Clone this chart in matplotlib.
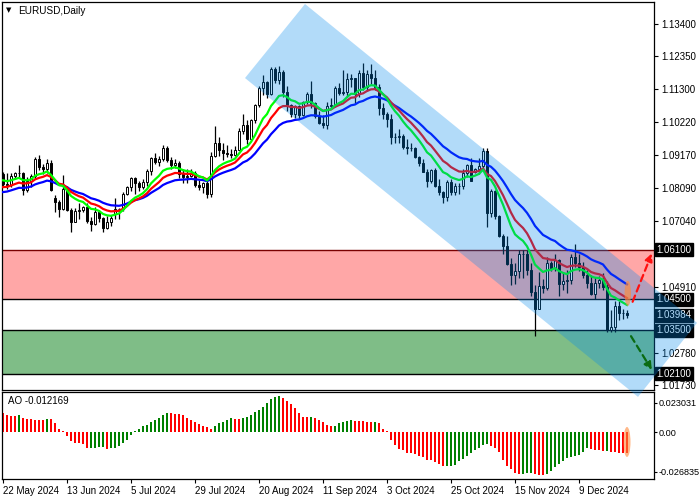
"""EURUSD daily chart with channel, zones and AO pane."""
import numpy as np
import matplotlib
matplotlib.use('Agg')
import matplotlib.pyplot as plt
from matplotlib.patches import Polygon, Ellipse
from matplotlib.transforms import blended_transform_factory

plt.rcParams['font.family'] = ['Liberation Sans', 'DejaVu Sans']

opens = [1.0855, 1.0822, 1.0818, 1.0847, 1.0857, 1.0858, 1.0802, 1.0832, 1.0848, 1.0902,
         1.0877, 1.0869, 1.0890, 1.0776, 1.0763, 1.0741, 1.0806, 1.0738, 1.0701, 1.0735,
         1.0737, 1.0748, 1.0702, 1.0692, 1.0733, 1.0713, 1.0681, 1.0701, 1.0725, 1.0740,
         1.0743, 1.0789, 1.0811, 1.0840, 1.0825, 1.0813, 1.0830, 1.0863, 1.0907, 1.0894,
         1.0902, 1.0938, 1.0898, 1.0882, 1.0891, 1.0853, 1.0844, 1.0849, 1.0856, 1.0820,
         1.0814, 1.0825, 1.0790, 1.0911, 1.0955, 1.0933, 1.0923, 1.0919, 1.0917, 1.0933,
         1.0994, 1.1011, 1.0967, 1.1028, 1.1077, 1.1131, 1.1151, 1.1113, 1.1192, 1.1159,
         1.1183, 1.1118, 1.1077, 1.1047, 1.1073, 1.1045, 1.1087, 1.1111, 1.1084, 1.1040,
         1.1018, 1.1012, 1.1075, 1.1076, 1.1132, 1.1116, 1.1118, 1.1160, 1.1163, 1.1111,
         1.1180, 1.1134, 1.1177, 1.1164, 1.1134, 1.1068, 1.1048, 1.1031, 1.0974, 1.0975,
         1.0978, 1.0941, 1.0937, 1.0937, 1.0908, 1.0891, 1.0862, 1.0832, 1.0867, 1.0817,
         1.0796, 1.0781, 1.0827, 1.0797, 1.0817, 1.0816, 1.0856, 1.0884, 1.0860, 1.0870,
         1.0880, 1.0930, 1.0730, 1.0800, 1.0720, 1.0654, 1.0622, 1.0565, 1.0530, 1.0540,
         1.0597, 1.0595, 1.0543, 1.0472, 1.0418, 1.0494, 1.0487, 1.0566, 1.0552, 1.0577,
         1.0498, 1.0509, 1.0512, 1.0585, 1.0567, 1.0555, 1.0528, 1.0502, 1.0468, 1.0502,
         1.0513, 1.0490, 1.0350, 1.0362, 1.0429, 1.0407, 1.0405]
highs = [1.0862, 1.0859, 1.0858, 1.0860, 1.0882, 1.0860, 1.0845, 1.0853, 1.0910, 1.0916,
         1.0886, 1.0902, 1.0898, 1.0786, 1.0772, 1.0852, 1.0815, 1.0745, 1.0744, 1.0761,
         1.0752, 1.0762, 1.0716, 1.0747, 1.0739, 1.0717, 1.0719, 1.0722, 1.0776, 1.0746,
         1.0797, 1.0816, 1.0846, 1.0845, 1.0832, 1.0838, 1.0872, 1.0910, 1.0922, 1.0913,
         1.0948, 1.0944, 1.0910, 1.0903, 1.0896, 1.0870, 1.0869, 1.0871, 1.0863, 1.0834,
         1.0830, 1.0831, 1.0925, 1.1009, 1.0973, 1.0955, 1.0949, 1.0934, 1.0944, 1.1003,
         1.1047, 1.1028, 1.1033, 1.1080, 1.1138, 1.1174, 1.1156, 1.1201, 1.1200, 1.1202,
         1.1189, 1.1139, 1.1081, 1.1077, 1.1076, 1.1091, 1.1120, 1.1155, 1.1087, 1.1059,
         1.1046, 1.1087, 1.1101, 1.1137, 1.1148, 1.1190, 1.1179, 1.1178, 1.1165, 1.1190,
         1.1214, 1.1190, 1.1209, 1.1190, 1.1146, 1.1083, 1.1054, 1.1047, 1.0986, 1.0998,
         1.0983, 1.0968, 1.0955, 1.0943, 1.0912, 1.0904, 1.0870, 1.0869, 1.0873, 1.0837,
         1.0800, 1.0836, 1.0838, 1.0826, 1.0825, 1.0870, 1.0887, 1.0905, 1.0875, 1.0906,
         1.0937, 1.0937, 1.0805, 1.0803, 1.0722, 1.0661, 1.0653, 1.0582, 1.0568, 1.0608,
         1.0610, 1.0609, 1.0566, 1.0497, 1.0537, 1.0515, 1.0587, 1.0573, 1.0597, 1.0580,
         1.0537, 1.0545, 1.0597, 1.0629, 1.0595, 1.0569, 1.0544, 1.0528, 1.0521, 1.0524,
         1.0535, 1.0508, 1.0416, 1.0444, 1.0445, 1.0418, 1.0414]
lows = [1.0816, 1.0805, 1.0812, 1.0837, 1.0846, 1.0788, 1.0797, 1.0812, 1.0838, 1.0866,
        1.0853, 1.0858, 1.0799, 1.0733, 1.0717, 1.0737, 1.0735, 1.0668, 1.0700, 1.0710,
        1.0731, 1.0697, 1.0671, 1.0689, 1.0700, 1.0666, 1.0677, 1.0685, 1.0710, 1.0709,
        1.0734, 1.0786, 1.0800, 1.0791, 1.0798, 1.0806, 1.0816, 1.0852, 1.0887, 1.0880,
        1.0897, 1.0892, 1.0872, 1.0874, 1.0843, 1.0825, 1.0825, 1.0846, 1.0811, 1.0803,
        1.0793, 1.0778, 1.0780, 1.0908, 1.0912, 1.0901, 1.0908, 1.0906, 1.0913, 1.0932,
        1.0982, 1.0950, 1.0965, 1.1020, 1.1069, 1.1109, 1.1100, 1.1109, 1.1147, 1.1144,
        1.1103, 1.1057, 1.1039, 1.1036, 1.1033, 1.1041, 1.1079, 1.1066, 1.1034, 1.1016,
        1.1002, 1.1001, 1.1063, 1.1071, 1.1110, 1.1109, 1.1103, 1.1136, 1.1083, 1.1104,
        1.1125, 1.1121, 1.1145, 1.1127, 1.1045, 1.1032, 1.1007, 1.0951, 1.0955, 1.0955,
        1.0936, 1.0919, 1.0928, 1.0905, 1.0880, 1.0860, 1.0811, 1.0825, 1.0811, 1.0785,
        1.0761, 1.0768, 1.0788, 1.0787, 1.0790, 1.0806, 1.0845, 1.0832, 1.0858, 1.0854,
        1.0871, 1.0682, 1.0715, 1.0710, 1.0650, 1.0596, 1.0560, 1.0496, 1.0500, 1.0520,
        1.0520, 1.0528, 1.0462, 1.0332, 1.0418, 1.0470, 1.0480, 1.0540, 1.0540, 1.0460,
        1.0480, 1.0470, 1.0498, 1.0554, 1.0542, 1.0519, 1.0487, 1.0464, 1.0452, 1.0485,
        1.0480, 1.0344, 1.0343, 1.0343, 1.0382, 1.0385, 1.0390]
closes = [1.0822, 1.0818, 1.0847, 1.0857, 1.0858, 1.0802, 1.0832, 1.0848, 1.0902, 1.0877,
          1.0869, 1.0890, 1.0802, 1.0763, 1.0741, 1.0806, 1.0738, 1.0701, 1.0735, 1.0737,
          1.0748, 1.0702, 1.0692, 1.0733, 1.0713, 1.0681, 1.0701, 1.0713, 1.0740, 1.0743,
          1.0789, 1.0811, 1.0840, 1.0825, 1.0813, 1.0830, 1.0863, 1.0907, 1.0894, 1.0902,
          1.0938, 1.0898, 1.0882, 1.0891, 1.0853, 1.0844, 1.0849, 1.0856, 1.0820, 1.0814,
          1.0825, 1.0790, 1.0911, 1.0955, 1.0933, 1.0923, 1.0919, 1.0917, 1.0933, 1.0994,
          1.1011, 1.0967, 1.1028, 1.1077, 1.1131, 1.1151, 1.1113, 1.1192, 1.1159, 1.1183,
          1.1118, 1.1077, 1.1047, 1.1073, 1.1045, 1.1087, 1.1111, 1.1084, 1.1040, 1.1018,
          1.1012, 1.1075, 1.1076, 1.1132, 1.1116, 1.1118, 1.1160, 1.1163, 1.1111, 1.1180,
          1.1134, 1.1177, 1.1164, 1.1134, 1.1068, 1.1048, 1.1031, 1.0974, 1.0975, 1.0978,
          1.0941, 1.0937, 1.0937, 1.0908, 1.0891, 1.0862, 1.0832, 1.0867, 1.0817, 1.0796,
          1.0781, 1.0827, 1.0797, 1.0817, 1.0816, 1.0856, 1.0884, 1.0833, 1.0870, 1.0880,
          1.0930, 1.0730, 1.0800, 1.0720, 1.0654, 1.0622, 1.0565, 1.0530, 1.0540, 1.0597,
          1.0595, 1.0543, 1.0472, 1.0418, 1.0494, 1.0487, 1.0566, 1.0552, 1.0577, 1.0498,
          1.0509, 1.0512, 1.0585, 1.0567, 1.0555, 1.0528, 1.0502, 1.0468, 1.0502, 1.0513,
          1.0490, 1.0350, 1.0362, 1.0429, 1.0407, 1.0405, 1.0398]

ao_values = [0.0109, 0.0096, 0.0095, 0.0094, 0.0096, 0.0084, 0.0076, 0.0073, 0.0069, 0.0068,
             0.0067, 0.0076, 0.0073, 0.0050, 0.0019, 0.0004, -0.0023, -0.0053, -0.0063, -0.0064,
             -0.0069, -0.0090, -0.0089, -0.0088, -0.0087, -0.0086, -0.0099, -0.0092, -0.0088, -0.0080,
             -0.0061, -0.0042, -0.0015, 0.0006, 0.0017, 0.0034, 0.0044, 0.0057, 0.0069, 0.0084,
             0.0099, 0.0111, 0.0110, 0.0107, 0.0103, 0.0096, 0.0080, 0.0069, 0.0057, 0.0046,
             0.0038, 0.0027, 0.0019, 0.0034, 0.0050, 0.0057, 0.0069, 0.0084, 0.0076, 0.0075,
             0.0084, 0.0088, 0.0096, 0.0115, 0.0130, 0.0145, 0.0168, 0.0191, 0.0203, 0.0208,
             0.0195, 0.0176, 0.0160, 0.0138, 0.0111, 0.0088, 0.0087, 0.0088, 0.0080, 0.0069,
             0.0057, 0.0042, 0.0034, 0.0036, 0.0050, 0.0057, 0.0065, 0.0069, 0.0066, 0.0065,
             0.0063, 0.0061, 0.0057, 0.0059, 0.0050, 0.0019, 0.0008, -0.0042, -0.0073, -0.0096,
             -0.0103, -0.0118, -0.0122, -0.0126, -0.0134, -0.0141, -0.0157, -0.0160, -0.0172, -0.0180,
             -0.0195, -0.0194, -0.0193, -0.0187, -0.0168, -0.0153, -0.0138, -0.0122, -0.0103, -0.0092,
             -0.0076, -0.0069, -0.0080, -0.0092, -0.0111, -0.0160, -0.0191, -0.0210, -0.0233, -0.0241,
             -0.0237, -0.0236, -0.0233, -0.0241, -0.0244, -0.0248, -0.0237, -0.0225, -0.0199, -0.0180,
             -0.0168, -0.0149, -0.0145, -0.0138, -0.0130, -0.0111, -0.0092, -0.0099, -0.0103, -0.0104,
             -0.0107, -0.0105, -0.0111, -0.0115, -0.0118, -0.0120, -0.012169]

date_labels = ['22 May 2024', '13 Jun 2024', '5 Jul 2024', '29 Jul 2024', '20 Aug 2024',
               '11 Sep 2024', '3 Oct 2024', '25 Oct 2024', '15 Nov 2024', '9 Dec 2024']
price_ticks = [1.13400, 1.12350, 1.11300, 1.10220, 1.09170, 1.08090, 1.07040,
               1.05990, 1.04910, 1.03850, 1.02780, 1.01730]
hidden_ticks = [1.05990, 1.03850]  # covered by the level boxes in the original
level_labels = [1.06100, 1.04500, 1.03500, 1.02100]
last_price = 1.03984
red_zone = (1.0450, 1.0610)
green_zone = (1.0210, 1.0350)

# moving averages: (start value, span, colour)
ma_specs = [(1.0796, 25, '#0000FF'), (1.0812, 15, '#FF0000'), (1.0834, 10, '#00FF00')]

# channel corners (bar index, price)
channel_x = [60.5, 75.5, 173.5, 158.75]
channel_y = [1.1164, 1.1403, 1.0374, 1.0135]

n = len(closes)
x = np.arange(n)
o = np.array(opens)
h = np.array(highs)
l = np.array(lows)
c = np.array(closes)

W, H = 700, 500
fig = plt.figure(figsize=(7, 5), dpi=100)
ax = fig.add_axes([2 / W, 1 - 390 / H, 652 / W, 388 / H])
ax_ao = fig.add_axes([2 / W, 1 - 479 / H, 652 / W, 87 / H])
ax.set_zorder(2)

for a in (ax, ax_ao):
    a.set_xlim(-0.25, 162.75)
    for s in a.spines.values():
        s.set_linewidth(0.9)
        s.set_color('black')
ax.set_ylim(1.01573, 1.14094)
ax_ao.set_ylim(-0.026835, 0.023031)

# zones and levels
ax.axhspan(*red_zone, color=(1, 80 / 255, 80 / 255), alpha=0.5, lw=0, zorder=1)
ax.axhspan(*green_zone, color=(0, 125 / 255, 17 / 255), alpha=0.5, lw=0, zorder=1)
ax.axhline(red_zone[1], color='#7a0000', lw=1.0, zorder=1.2)
for lv in (red_zone[0], green_zone[1], green_zone[0]):
    ax.axhline(lv, color='black', lw=1.0, zorder=1.2)

# candles
up = c >= o
ax.vlines(x, l, h, color='black', lw=0.9, zorder=2)
body_h = np.maximum(np.abs(c - o), 0.00012)
ax.bar(x, body_h, bottom=np.minimum(o, c), width=0.66,
       color=np.where(up, 'white', 'black'), edgecolor='black', linewidth=0.7, zorder=2.1)

# moving averages
for seed, span, col in ma_specs:
    alpha = 2.0 / (span + 1)
    ma = np.empty(n)
    ma[0] = seed
    for i in range(1, n):
        ma[i] = ma[i - 1] + alpha * (c[i] - ma[i - 1])
    ax.plot(x, ma, color=col, lw=1.6, zorder=3)

# channel drawn over everything
chan = Polygon(list(zip(channel_x, channel_y)), closed=True, facecolor='#008AEE',
               alpha=0.3, lw=0, zorder=6, clip_on=False)
ax.add_patch(chan)

# arrows and marker
ax.annotate('', xy=(162.2, 1.0598), xytext=(157.4, 1.0442), annotation_clip=False,
            arrowprops=dict(arrowstyle='-|>', color='#FF1010', lw=1.6, linestyle=(0, (3, 2)),
                            mutation_scale=11, shrinkA=0, shrinkB=0), zorder=7)
ax.annotate('', xy=(162.2, 1.0222), xytext=(157.0, 1.0331), annotation_clip=False,
            arrowprops=dict(arrowstyle='-|>', color='#0a6b12', lw=1.6, linestyle=(0, (3, 2)),
                            mutation_scale=11, shrinkA=0, shrinkB=0), zorder=7)
ax.add_patch(Ellipse((156.2, 1.0469), 1.6, 0.0081, facecolor='#FF8A3A', alpha=0.65,
                     lw=0, zorder=7, clip_on=False))

# right price axis
ax.yaxis.tick_right()
ax.set_yticks(price_ticks)
ax.set_yticklabels(['' if p in hidden_ticks else '%.5f' % p for p in price_ticks])
ax.tick_params(axis='y', direction='out', length=3, width=0.8, labelsize=7, pad=2)
ax.set_xticks([])
trans = blended_transform_factory(ax.transAxes, ax.transData)
for lv in level_labels + [last_price]:
    ax.text(1.0035, lv, '%.5f' % lv, transform=trans, color='white', fontsize=7,
            va='center', ha='left', clip_on=False, zorder=5,
            bbox=dict(boxstyle='square,pad=0.18', facecolor='black', edgecolor='black'))

# AO pane
ao = np.array(ao_values)
rising = np.concatenate([[False], ao[1:] > ao[:-1]])
ax_ao.bar(x, ao, width=0.72, color=np.where(rising, '#008000', '#FF0000'), lw=0)
ax_ao.add_patch(Ellipse((156.0, -0.0056), 1.75, 0.0172, facecolor='#FF8A3A', alpha=0.6,
                        lw=0, zorder=4))
ax_ao.yaxis.tick_right()
ax_ao.set_yticks([0.0168, 0.0, -0.0226])
ax_ao.set_yticklabels(['0.023031', '0.00', '-0.026835'])
ax_ao.tick_params(axis='y', direction='out', length=2, width=0.8, labelsize=6.6, pad=1)
ax_ao.set_xticks(np.arange(0, 16 * len(date_labels), 16))
ax_ao.set_xticklabels(date_labels, ha='left')
ax_ao.tick_params(axis='x', direction='out', length=3, width=0.8, labelsize=7, pad=2)
ax_ao.text(0.009, 0.9, 'AO -0.012169', transform=ax_ao.transAxes, fontsize=7, va='center')

# title
fig.text(6 / W, 1 - 10 / H, '\u25BC', fontsize=5, va='center', family=['DejaVu Sans'])
fig.text(18 / W, 1 - 11 / H, 'EURUSD,Daily', fontsize=7.2, va='center')

fig.savefig('out.png', dpi=100)
